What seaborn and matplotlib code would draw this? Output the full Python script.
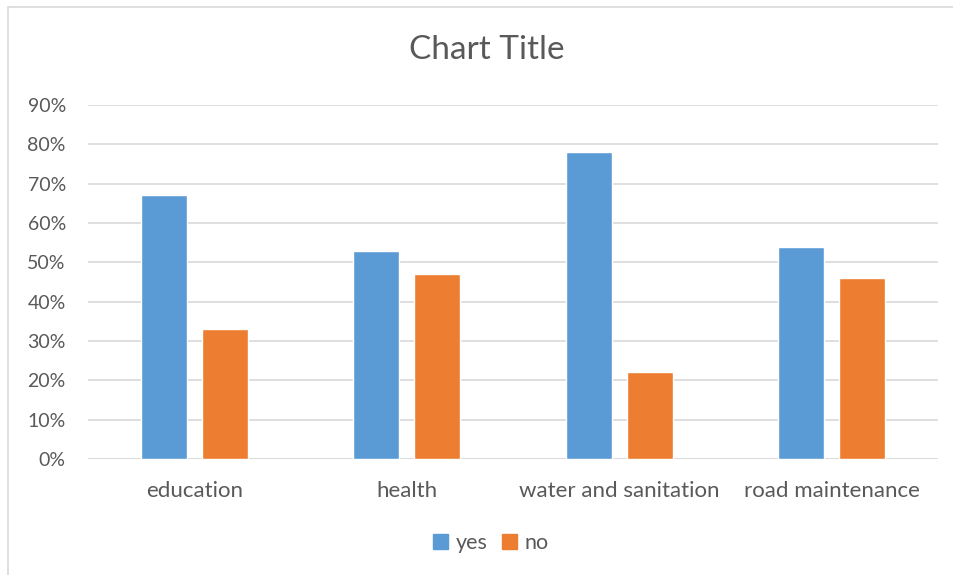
import matplotlib
matplotlib.use("Agg")
import matplotlib.pyplot as plt
import matplotlib.patches as mpatches
import seaborn as sns
import pandas as pd
from matplotlib.ticker import PercentFormatter, MultipleLocator

categories = ["education", "health", "water and sanitation", "road maintenance"]
yes_values = [0.67, 0.53, 0.78, 0.54]
no_values = [0.33, 0.47, 0.22, 0.46]
series_names = ["yes", "no"]

df = pd.DataFrame({
    "category": categories * 2,
    "series": [series_names[0]] * 4 + [series_names[1]] * 4,
    "value": yes_values + no_values,
})

sns.set_theme(style="white")
plt.rcParams["font.family"] = ["Lato", "DejaVu Sans"]
text_color = "#595959"

fig = plt.figure(figsize=(9.54, 5.75), dpi=100)
fig.patch.set_facecolor("white")
# chart frame
fig.add_artist(mpatches.Rectangle((8 / 954, -0.05), 1.2, 1 - 7 / 575 + 0.05,
                                  transform=fig.transFigure, fill=False,
                                  edgecolor="#D9D9D9", linewidth=1.2))

ax = fig.add_axes([88 / 954, 1 - 459 / 575, (938 - 88) / 954, (459 - 105) / 575])
sns.barplot(data=df, x="category", y="value", hue="series",
            palette=["#5B9BD5", "#ED7D31"], width=0.57, gap=0.24,
            legend=False, ax=ax, saturation=1)

ax.set_ylim(0, 0.9)
ax.set_xlim(-0.5, 3.5)
ax.yaxis.set_major_locator(MultipleLocator(0.1))
ax.yaxis.set_major_formatter(PercentFormatter(1.0, decimals=0))
ax.grid(axis="y", color="#D9D9D9", linewidth=1.2)
ax.set_axisbelow(True)
for s in ax.spines.values():
    s.set_visible(False)
ax.axhline(0, color="#D9D9D9", linewidth=1.2, zorder=0.5)
ax.set_xlabel("")
ax.set_ylabel("")
ax.tick_params(axis="both", length=0, colors=text_color)
ax.tick_params(axis="x", pad=16, labelsize=16)
ax.tick_params(axis="y", pad=16, labelsize=14)

fig.text(487 / 954, 1 - 50 / 575, "Chart Title", ha="center", va="center",
         fontsize=24, color=text_color)

handles = [mpatches.Patch(color="#5B9BD5", label="yes"),
           mpatches.Patch(color="#ED7D31", label="no")]
fig.legend(handles=handles, loc="center", bbox_to_anchor=(491 / 954, 1 - 543 / 575),
           ncol=2, frameon=False, fontsize=15.5, handlelength=0.7, handleheight=0.7,
           handletextpad=0.35, columnspacing=0.65, labelcolor=text_color)

fig.savefig("out.png", dpi=100, facecolor="white")
